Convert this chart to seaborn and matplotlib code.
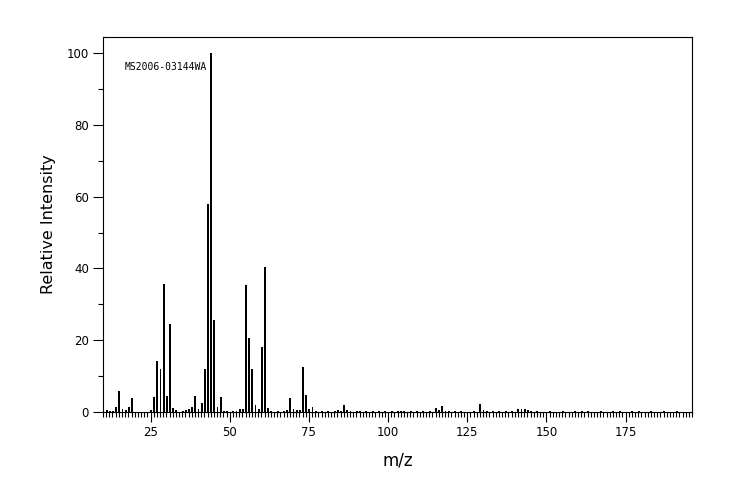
import numpy as np
import pandas as pd
import seaborn as sns
import matplotlib
matplotlib.use("Agg")
import matplotlib.pyplot as plt
from matplotlib.ticker import MultipleLocator

# ---- data ----
mz = [11, 12, 13, 14, 15, 16, 17, 18, 19,
      25, 26, 27, 28, 29, 30, 31, 32, 33, 35, 36, 37, 38, 39, 40,
      41, 42, 43, 44, 45, 46, 47, 48, 49, 51, 52, 53, 54,
      55, 56, 57, 58, 59, 60, 61, 62, 63, 65, 67, 68, 69, 70, 71, 72,
      73, 74, 75, 76, 77, 79, 81, 83, 84, 85, 86, 87, 88, 90, 91, 93,
      95, 97, 99, 101, 103, 104, 105, 107, 109, 111, 113, 115, 116, 117,
      118, 119, 121, 123, 127, 129, 130, 131, 133, 135, 137, 139, 141,
      142, 143, 144, 145, 147, 151, 155, 159, 161, 163, 167, 171, 173,
      177, 179, 183, 187, 191]
intensity = [0.5, 0.4, 0.4, 1.5, 5.8, 0.8, 0.6, 1.3, 3.9,
             0.6, 4.2, 14.2, 12.0, 35.6, 4.5, 24.5, 1.1, 0.6, 0.3, 0.6, 0.8, 1.5, 4.4, 0.8,
             2.6, 12.0, 58.0, 100.0, 25.6, 1.4, 4.2, 0.3, 0.3, 0.2, 0.3, 0.8, 0.8,
             35.4, 20.6, 12.0, 1.9, 0.8, 18.1, 40.5, 1.2, 0.3, 0.3, 0.3, 0.6, 3.9, 0.8, 0.6, 0.6,
             12.5, 4.8, 0.8, 1.4, 0.3, 0.3, 0.3, 0.3, 0.6, 0.4, 2.0, 0.5, 0.3, 0.3, 0.3, 0.3,
             0.3, 0.3, 0.3, 0.3, 0.3, 0.3, 0.3, 0.3, 0.3, 0.3, 0.3, 1.1, 0.5, 1.7,
             0.4, 0.3, 0.3, 0.3, 0.3, 2.3, 0.5, 0.3, 0.3, 0.3, 0.3, 0.3, 0.7,
             0.9, 0.8, 0.6, 0.3, 0.3, 0.3, 0.3, 0.3, 0.3, 0.3, 0.3, 0.3, 0.3,
             0.3, 0.3, 0.3, 0.3, 0.3]
x_major = [25, 50, 75, 100, 125, 150, 175]
y_major = [0, 20, 40, 60, 80, 100]
sample_id = "MS2006-03144WA"

df = pd.DataFrame({"mz": mz, "intensity": intensity})

sns.set_theme(style="ticks")
plt.rcParams["font.family"] = ["DejaVu Sans"]

fig = plt.figure(figsize=(7.44, 5.0), dpi=100)
ax = fig.add_axes([103 / 744, 88 / 500, 589 / 744, 375 / 500])

sns.barplot(data=df, x="mz", y="intensity", native_scale=True, width=0.3,
            color="black", edgecolor="black", linewidth=0.6, errorbar=None,
            ax=ax, saturation=1, antialiased=False)

ax.set_xlim(10, 196)
ax.set_ylim(0, 104.5)
ax.set_xticks(x_major)
ax.set_xticklabels([str(v) for v in x_major])
ax.xaxis.set_minor_locator(MultipleLocator(1))
ax.set_yticks(y_major)
ax.set_yticklabels([str(v) for v in y_major])
ax.yaxis.set_minor_locator(MultipleLocator(10))

ax.tick_params(axis="both", which="major", direction="out", length=7, width=0.8,
               color="black", labelsize=8.5, labelcolor="black", pad=3)
ax.tick_params(axis="both", which="minor", direction="out", length=3.5, width=0.8,
               color="black")
for sp in ax.spines.values():
    sp.set_visible(True)
    sp.set_color("black")
    sp.set_linewidth(0.8)

ax.set_xlabel("m/z", fontsize=12, color="black", labelpad=9)
ax.set_ylabel("Relative Intensity", fontsize=11.5, color="black", labelpad=8)

ax.text(16.9, 96.1, sample_id, fontsize=7, family="DejaVu Sans Mono",
        ha="left", va="center", color="black")

fig.savefig("out.png", dpi=100, facecolor="white")
